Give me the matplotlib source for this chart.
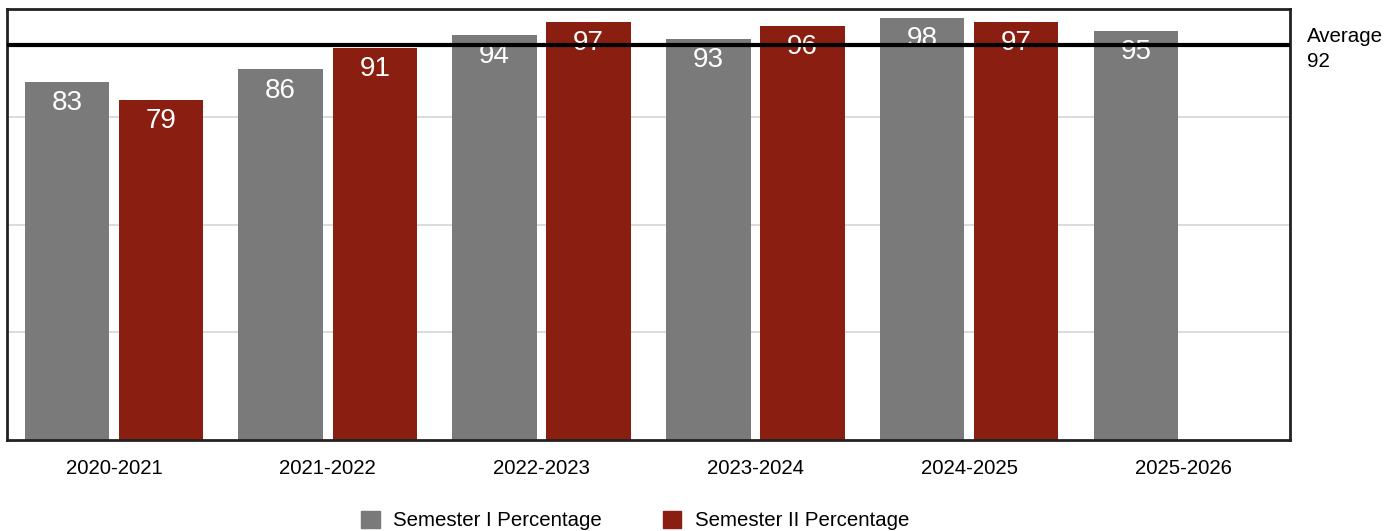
import numpy as np
import matplotlib
matplotlib.use("Agg")
from matplotlib import pyplot as plt
from matplotlib.patches import Patch

years = ['2020-2021', '2021-2022', '2022-2023', '2023-2024', '2024-2025', '2025-2026']
sem1 = [83, 86, 94, 93, 98, 95]
sem2 = [79, 91, 97, 96, 97, None]
sem1_label = 'Semester I Percentage'
sem2_label = 'Semester II Percentage'

grey = '#7a7a7a'
red = '#8a1f11'

plt.rcParams['font.family'] = ['Liberation Sans', 'DejaVu Sans']

fig = plt.figure(figsize=(13.99, 5.31), dpi=100)
ax = fig.add_axes([0.005, 0.171, 0.917, 0.812])

x = np.arange(len(years))
w = 0.395
off = 0.22

for i in range(len(years)):
  if sem1[i] is not None:
    ax.bar(x[i] - off, sem1[i], width=w, color=grey, zorder=2)
    ax.text(x[i] - off, sem1[i] - 4.9, str(sem1[i]), color='white', fontsize=20,
            ha='center', va='center', zorder=3)
  if sem2[i] is not None:
    ax.bar(x[i] + off, sem2[i], width=w, color=red, zorder=2)
    ax.text(x[i] + off, sem2[i] - 4.9, str(sem2[i]), color='white', fontsize=20,
            ha='center', va='center', zorder=3)

# average line over all values shown
vals = [v for v in sem1 + sem2 if v is not None]
avg = sum(vals) / len(vals)
ax.axhline(avg, color='black', lw=3, zorder=4)
ax.text(1.013, avg / 100 - 0.01, 'Average\n' + str(round(avg)), transform=ax.transAxes,
        ha='left', va='center', fontsize=14.8, linespacing=1.45)

ax.set_xlim(-0.5, len(years) - 0.5)
ax.set_ylim(0, 100)
ax.set_yticks([25, 50, 75])
ax.yaxis.grid(True, color='#d9d9d9', lw=1.3, zorder=0)
ax.set_axisbelow(True)
ax.tick_params(axis='y', left=False, labelleft=False)
ax.set_xticks(x)
ax.set_xticklabels(years, fontsize=14.7)
ax.tick_params(axis='x', bottom=False, pad=10)
for s in ax.spines.values():
  s.set_linewidth(2)
  s.set_color('#222222')

handles = [Patch(color=grey, label=sem1_label), Patch(color=red, label=sem2_label)]
fig.legend(handles=handles, loc='center', bbox_to_anchor=(0.454, 0.02), ncol=2,
           frameon=False, fontsize=14.7, handlelength=0.9, handleheight=0.9,
           columnspacing=3.0, handletextpad=0.65)

fig.savefig('out.png', dpi=100)
